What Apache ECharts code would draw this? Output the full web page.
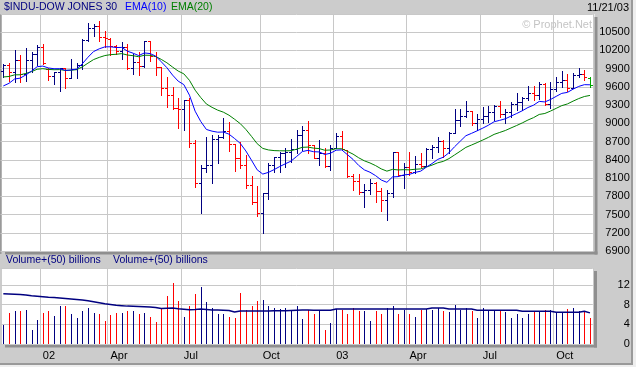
<!DOCTYPE html>
<html><head><meta charset="utf-8">
<script src="https://cdn.jsdelivr.net/npm/echarts@6/dist/echarts.min.js"></script>
<style>html,body{margin:0;padding:0;background:#cccccc}#c{width:636px;height:367px}</style>
</head><body><div id="c"></div>
<script>
// ---- data (weekly bars, week starting Monday) ----
var weekStart = '2001-11-19';
var tickWeeks = ['2002-01-07','2002-04-01','2002-07-01','2002-10-07','2003-01-06','2003-04-07','2003-07-07','2003-10-06'];
var tickLabels = ['02','Apr','Jul','Oct','03','Apr','Jul','Oct'];
var priceTicks = [6900,7200,7500,7800,8100,8400,8700,9000,9300,9600,9900,10200,10500];
var volTicks = [0,4,8,12];

var opens = [9870,9960,9852,10049,9812,10035,10137,10260,9900,9772,
9840,9907,9744,9903,9968,10369,10572,10607,10428,10390,
10272,10191,10257,9911,10007,9940,10353,10105,9925,9589,
9474,9253,9243,9379,8684,8019,8264,8313,8745,8778,
8872,8660,8427,8312,7986,7701,7528,7850,8322,8443,
8517,8537,8579,8804,8896,8640,8433,8511,8303,8601,
8785,8560,8131,8053,7864,7908,8018,7891,7740,7859,
8522,8145,8277,8203,8337,8306,8582,8604,8713,8601,
8850,9062,9117,9200,9011,9070,9119,9188,9284,9153,
9191,9321,9348,9415,9503,9471,9644,9313,9572,9674,
9721,9582,9801,9809,9742];
var highs = [9980,9990,10200,10130,10240,10170,10290,10300,9910,9850,
9910,9910,10060,9990,10390,10660,10640,10680,10520,10400,
10290,10340,10300,10150,10180,10360,10360,10180,9934,9770,
9605,9410,9385,9412,8726,8314,8780,8808,8808,9083,
9028,8665,8700,8480,8133,7969,7859,8342,8452,8534,
8589,8737,8891,8957,9045,8650,8726,8589,8644,8836,
8880,8570,8166,8170,8010,8090,8030,7930,7900,8534,
8534,8350,8534,8470,8517,8589,8643,8770,8720,8863,
9231,9231,9374,9210,9154,9264,9286,9300,9374,9231,
9357,9500,9430,9616,9616,9687,9660,9687,9769,9863,
9808,9835,9907,9879,9769];
var lows = [9760,9700,9680,9680,9700,9840,9960,9985,9715,9650,
9530,9580,9740,9745,9900,10360,10440,10350,10260,10130,
10140,10060,9900,9810,9800,9935,10030,9800,9467,9265,
9230,8920,8890,8605,7960,7530,8205,8023,8353,8754,
8551,8221,8260,7930,7672,7474,7200,7749,8205,8205,
8287,8369,8507,8562,8507,8424,8315,8287,8232,8589,
8562,8111,7903,7830,7630,7840,7710,7565,7415,7790,
8140,7930,8150,8180,8276,8300,8424,8534,8440,8506,
8850,8956,9099,8973,8891,9000,9028,9055,9111,9000,
9111,9220,9220,9385,9385,9396,9300,9248,9539,9605,
9533,9577,9769,9714,9605];
var closes = [9960,9852,10049,9812,10035,10137,10260,9988,9772,9840,
9907,9744,9903,9968,10369,10572,10607,10428,10404,10272,
10191,10257,9911,10007,9940,10353,10105,9925,9589,9474,
9253,9243,9379,8684,8019,8264,8313,8745,8778,8872,
8663,8427,8312,7986,7701,7528,7850,8322,8443,8517,
8537,8579,8804,8896,8645,8433,8511,8303,8601,8785,
8586,8131,8053,7864,7908,8018,7891,7740,7859,8522,
8145,8277,8203,8337,8306,8582,8604,8713,8601,8850,
9062,9117,9200,9011,9070,9119,9188,9284,9153,9191,
9321,9348,9415,9503,9471,9644,9313,9572,9674,9721,
9582,9801,9809,9768,9628];
var ema10 = [9616,9659,9730,9745,9798,9860,9933,9943,9912,9899,
9900,9872,9878,9894,9980,10088,10182,10227,10259,10261,
10248,10250,10188,10155,10116,10159,10149,10108,10014,9916,
9795,9695,9638,9464,9201,9031,8900,8872,8855,8858,
8823,8751,8671,8546,8393,8236,8166,8194,8239,8290,
8335,8379,8456,8536,8556,8534,8530,8488,8509,8559,
8564,8485,8407,8308,8235,8196,8140,8068,8030,8119,
8124,8152,8161,8193,8214,8281,8339,8407,8443,8517,
8616,8707,8797,8836,8878,8922,8970,9027,9050,9076,
9120,9162,9208,9261,9300,9362,9353,9393,9444,9494,
9510,9563,9608,9637,9635];
var ema20 = [9764,9772,9799,9800,9822,9852,9891,9900,9888,9883,
9885,9872,9875,9884,9930,9991,10050,10086,10116,10131,
10137,10148,10125,10114,10097,10122,10120,10101,10053,9997,
9927,9861,9815,9708,9547,9425,9319,9264,9218,9185,
9135,9068,8996,8900,8786,8666,8588,8563,8552,8549,
8548,8551,8575,8606,8610,8593,8585,8558,8562,8583,
8583,8540,8494,8434,8384,8349,8305,8251,8214,8243,
8234,8238,8235,8245,8251,8282,8313,8351,8375,8420,
8481,8542,8605,8644,8684,8726,8770,8819,8851,8883,
8925,8965,9008,9055,9095,9147,9163,9202,9247,9292,
9320,9366,9408,9442,9460];
var volumes = [3.96,6.3,6.8,6.7,7.0,2.94,4.97,6.3,6.8,5.6,
7.8,7.7,6.0,5.2,6.8,7.4,6.4,6.2,4.6,5.9,
6.4,6.3,6.7,6.8,6.2,6.4,5.5,4.4,7.3,9.7,
12.5,8.8,5.5,7.8,10.2,11.5,8.6,7.3,6.2,6.2,
5.5,5.2,10.3,7.0,7.7,8.7,9.0,7.7,7.4,7.2,
7.4,6.7,7.7,5.0,6.86,6.2,6.86,2.9,4.3,7.2,
6.86,6.0,7.4,6.66,6.66,4.76,6.66,6.2,7.4,7.8,
6.2,6.86,6.2,5.5,6.86,7.2,6.86,7.3,6.8,6.46,
8.0,6.86,7.4,6.66,5.2,7.4,6.66,6.66,6.86,6.46,
5.2,6.2,5.2,6.0,6.46,6.66,7.0,7.0,6.33,6.33,
7.2,7.4,6.8,6.5,5.2];
var volAvg = [10.2,10.15,10.1,10.05,9.95,9.8,9.7,9.6,9.5,9.45,
9.35,9.25,9.15,9.05,8.95,8.8,8.6,8.4,8.2,8.05,
7.9,7.8,7.7,7.65,7.6,7.55,7.5,7.4,7.2,7.25,
7.3,7.15,7.05,6.95,7.0,7.1,7.0,6.9,6.9,6.85,
6.8,6.5,6.7,6.7,6.7,6.7,6.7,6.7,6.75,6.75,
6.75,6.8,6.85,6.9,6.9,6.86,6.86,6.86,6.86,7.1,
7.1,7.1,7.1,7.1,7.1,7.1,7.1,7.1,7.1,7.1,
7.1,7.1,7.1,7.1,7.1,7.1,7.3,7.3,7.3,7.1,
7.1,7.1,7.1,7.1,6.86,6.86,6.86,6.86,6.86,6.86,
6.86,6.86,6.66,6.66,6.66,6.66,6.66,6.66,6.46,6.46,
6.46,6.46,6.46,6.66,6.33];

// ---- build ----
var weeks = [];
(function(){
  var d = new Date(weekStart + 'T00:00:00Z');
  for (var i = 0; i < closes.length; i++) {
    weeks.push(d.toISOString().slice(0,10));
    d = new Date(d.getTime() + 7*86400000);
  }
})();
var NAVY = '#000080', RED = '#ff0000', LASTC = '#00a800';
function barColor(i){
  if (i === closes.length - 1) return LASTC;
  var prev = i === 0 ? opens[0] : closes[i-1];
  return closes[i] >= prev ? NAVY : RED;
}
function volColor(i){
  var prev = i === 0 ? opens[0] : closes[i-1];
  return closes[i] >= prev ? NAVY : RED;
}
var ohlc = weeks.map(function(w,i){ return [i, opens[i], highs[i], lows[i], closes[i]]; });
var vol = weeks.map(function(w,i){ return [i, volumes[i]]; });
function isTick(idx, val){ return tickWeeks.indexOf(weeks[idx]) >= 0; }

var FONT = '"Liberation Sans", Arial, sans-serif';
var GRID_L = 0.5, GRID_W = 592.3;
var chart = echarts.init(document.getElementById('c'), null, {renderer:'canvas'});
var splitX = {show:true, interval:isTick, lineStyle:{color:'#c8c8c8', width:1}};
chart.setOption({
  animation:false,
  backgroundColor:'#cccccc',
  grid:[
    {left:GRID_L, top:14, width:GRID_W, height:237},
    {left:GRID_L, top:268, width:GRID_W, height:76}
  ],
  xAxis:[
    {type:'category', gridIndex:0, data:weeks, boundaryGap:true,
     axisLine:{show:false}, axisTick:{show:false}, axisLabel:{show:false}, splitLine:splitX},
    {type:'category', gridIndex:1, data:weeks, boundaryGap:true,
     axisLine:{show:false}, axisTick:{show:false}, splitLine:splitX,
     axisLabel:{show:true, interval:isTick, align:'left', margin:6, color:'#000',
       fontFamily:FONT, fontSize:11,
       formatter:function(v){ var k=tickWeeks.indexOf(v); return k>=0?tickLabels[k]:''; }}}
  ],
  yAxis:[
    {type:'value', gridIndex:0, position:'right', min:priceTicks[0], max:10800, interval:300,
     axisLine:{show:false}, axisTick:{show:false},
     splitLine:{show:true, lineStyle:{color:'#c8c8c8', width:1}},
     axisLabel:{show:true, showMaxLabel:false, align:'right', margin:37, color:'#000',
       fontFamily:FONT, fontSize:11,
       formatter:function(v){ return priceTicks.indexOf(v)>=0 ? String(v) : ''; }}},
    {type:'value', gridIndex:1, position:'right', min:volTicks[0], max:15.45, interval:4,
     axisLine:{show:false}, axisTick:{show:false},
     splitLine:{show:true, lineStyle:{color:'#c8c8c8', width:1}},
     axisLabel:{show:true, showMaxLabel:false, align:'right', margin:37, color:'#000',
       fontFamily:FONT, fontSize:11,
       formatter:function(v){ return volTicks.indexOf(v)>=0 ? String(v) : ''; }}}
  ],
  graphic:[
    {type:'rect', z:-10, shape:{x:2, y:14, width:592.5, height:237.5}, style:{fill:'#ffffff'}},
    {type:'rect', z:-10, shape:{x:594.5, y:17, width:3, height:237.5}, style:{fill:'#8f8f8f'}},
    {type:'rect', z:-10, shape:{x:5, y:251.5, width:592.5, height:3}, style:{fill:'#8f8f8f'}},
    {type:'rect', z:-10, shape:{x:2, y:268, width:592, height:76.5}, style:{fill:'#ffffff'}},
    {type:'rect', z:-10, shape:{x:594, y:271, width:3, height:76.5}, style:{fill:'#8f8f8f'}},
    {type:'rect', z:-10, shape:{x:5, y:344.5, width:592, height:3}, style:{fill:'#8f8f8f'}},
    {type:'rect', z:-10, shape:{x:0, y:14, width:1.5, height:240}, style:{fill:'#9a9a9a'}},
    {type:'rect', z:-10, shape:{x:631, y:0, width:2, height:365}, style:{fill:'#999999'}},
    {type:'rect', z:-10, shape:{x:633, y:0, width:3, height:367}, style:{fill:'#eeeeee'}},
    {type:'rect', z:-10, shape:{x:0, y:363, width:633, height:2}, style:{fill:'#999999'}},
    {type:'rect', z:-10, shape:{x:0, y:365, width:636, height:2}, style:{fill:'#eeeeee'}},
    {type:'text', x:4, y:2, style:{text:'$INDU-DOW JONES 30', fill:NAVY, font:'10.5px '+FONT}},
    {type:'text', x:125, y:2, style:{text:'EMA(10)', fill:'#0000ff', font:'10.5px '+FONT}},
    {type:'text', x:171, y:2, style:{text:'EMA(20)', fill:'#008000', font:'10.5px '+FONT}},
    {type:'text', x:629, y:2, style:{text:'11/21/03', fill:'#000', font:'11px '+FONT, textAlign:'right'}},
    {type:'text', x:592, y:19, style:{text:'\u00a9 Prophet.Net', fill:'#c4c4c4', font:'11px '+FONT, textAlign:'right'}},
    {type:'text', x:6, y:255, style:{text:'Volume+(50) billions', fill:NAVY, font:'10.5px '+FONT}},
    {type:'text', x:113, y:255, style:{text:'Volume+(50) billions', fill:NAVY, font:'10.5px '+FONT}}
  ],
  series:[
    {type:'custom', xAxisIndex:0, yAxisIndex:0, data:ohlc, z:3,
     renderItem:function(params, api){
       var i = api.value(0);
       var x = Math.round(api.coord([i, 0])[0]) + 0.5;
       var yO = Math.round(api.coord([i, api.value(1)])[1]) + 0.5;
       var yH = Math.round(api.coord([i, api.value(2)])[1]);
       var yL = Math.round(api.coord([i, api.value(3)])[1]);
       var yC = Math.round(api.coord([i, api.value(4)])[1]) + 0.5;
       var c = barColor(i);
       var st = {stroke:c, lineWidth:1};
       return {type:'group', children:[
         {type:'line', shape:{x1:x, y1:yH, x2:x, y2:yL+1}, style:st},
         {type:'line', shape:{x1:x-2.5, y1:yO, x2:x, y2:yO}, style:st},
         {type:'line', shape:{x1:x, y1:yC, x2:x+2.5, y2:yC}, style:st}
       ]};
     }},
    {type:'line', xAxisIndex:0, yAxisIndex:0, data:ema20, symbol:'none', z:4,
     lineStyle:{color:'#008000', width:1}},
    {type:'line', xAxisIndex:0, yAxisIndex:0, data:ema10, symbol:'none', z:5,
     lineStyle:{color:'#0000ff', width:1}},
    {type:'custom', xAxisIndex:1, yAxisIndex:1, data:vol, z:3,
     renderItem:function(params, api){
       var i = api.value(0);
       var x = Math.round(api.coord([i, 0])[0]) + 0.5;
       var y0 = Math.round(api.coord([i, 0])[1]);
       var y1 = Math.round(api.coord([i, api.value(1)])[1]);
       return {type:'line', shape:{x1:x, y1:y0, x2:x, y2:y1}, style:{stroke:volColor(i), lineWidth:1}};
     }},
    {type:'line', xAxisIndex:1, yAxisIndex:1, data:volAvg, symbol:'none', z:4,
     lineStyle:{color:NAVY, width:1.5}}
  ]
});
</script></body></html>
